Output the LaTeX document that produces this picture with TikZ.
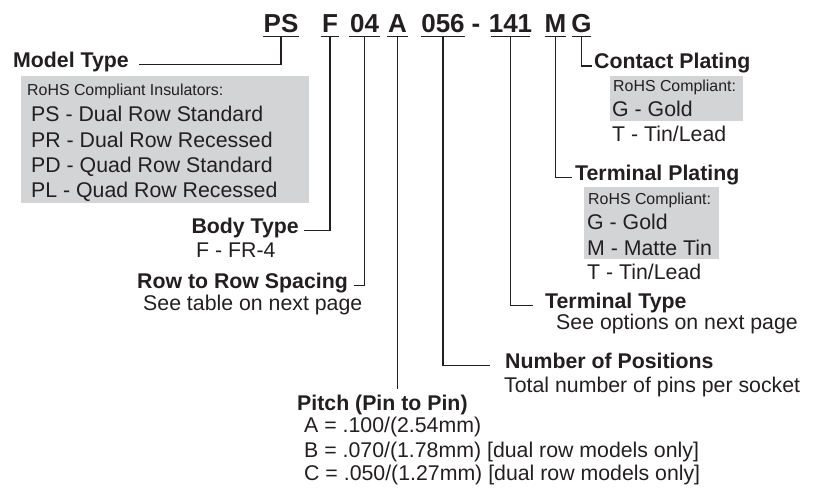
\documentclass[tikz,border=0pt]{standalone}
\usepackage{fontspec}
\setmainfont{Liberation Sans}
\usepackage{xcolor}
\definecolor{pnink}{RGB}{35,31,32}
\definecolor{rohsgray}{RGB}{211,212,214}
\tikzstyle{conn} = [line width=1.3pt, color=pnink]
\tikzstyle{code} = [anchor=base, inner xsep=0.5pt, inner ysep=4pt, text depth=0pt, font=\fontsize{26}{30}\selectfont\bfseries]
\tikzstyle{head} = [inner sep=0pt, font=\fontsize{21.3}{25}\selectfont\bfseries]
\tikzstyle{desc} = [anchor=base west, inner sep=0pt, font=\fontsize{21.3}{25}\selectfont]
\tikzstyle{note} = [anchor=base west, inner sep=0pt, font=\fontsize{15.9}{19}\selectfont]
\tikzstyle{rohsbox} = [fill=rohsgray, anchor=north west, inner sep=0pt]

\begin{document}
\begin{tikzpicture}[x=1pt, y=-1pt, every node/.append style={text=pnink}]
\useasboundingbox (0,0) rectangle (813,488);

% Shaded RoHS boxes
\node[rohsbox, minimum width=288pt, minimum height=127pt] (insbox) at (21,76) {};
\node[rohsbox, minimum width=133pt, minimum height=45pt] (cpbox) at (610,76) {};
\node[rohsbox, minimum width=135pt, minimum height=72pt] (tpbox) at (584,187) {};

% Part number
\node[code] (ps)  at (281,32) {PS};
\node[code] (bt)  at (330,32) {F};
\node[code] (rr)  at (364.5,32) {04};
\node[code] (pt)  at (397.5,32) {A};
\node[code] (np)  at (443,32) {056};
\node[code] (dsh) at (476,32) {-};
\node[code, inner xsep=-2pt] (tt) at (510.5,32) {141};
\node[code, inner xsep=-0.5pt] (tp) at (555.5,32) {M};
\node[code, inner xsep=-0.5pt] (cp) at (581.5,32) {G};
\foreach \n in {ps,bt,rr,pt,np,tt,tp,cp}
  \draw[conn] (\n.south west) -- (\n.south east);

% Model type
\node[head, anchor=base west] (model) at (13,67) {Model Type};
\draw[conn, shorten >=10pt] (ps.south) |- (model.mid east);
\node[note] (ins) at (27,95) {RoHS Compliant Insulators:};
\node[desc] (ps1) at (31,121) {PS - Dual Row Standard};
\node[desc] (pr1) at (31,147) {PR - Dual Row Recessed};
\node[desc] (pd1) at (31,172) {PD - Quad Row Standard};
\node[desc] (pl1) at (31,197) {PL - Quad Row Recessed};

% Body type
\node[head, anchor=base east] (body) at (299,233) {Body Type};
\draw[conn, shorten >=5pt] (bt.south) |- (body.mid east);
\node[desc] (fr4) at (196,257) {F - FR-4};

% Row to row spacing
\node[head, anchor=base east] (row) at (348,288) {Row to Row Spacing};
\draw[conn, shorten >=6pt] (rr.south) |- (row.mid east);
\node[desc] (rowtab) at (143,310) {See table on next page};

% Pitch
\node[head, anchor=base west] (pitch) at (297,410) {Pitch (Pin to Pin)};
\draw[conn, shorten >=5pt] (pt.south) -- (pt.south |- pitch.north);
\node[desc] (pa) at (304,432) {A = .100/(2.54mm)};
\node[desc] (pb) at (304,457) {B = .070/(1.78mm) [dual row models only]};
\node[desc] (pc) at (304,480) {C = .050/(1.27mm) [dual row models only]};

% Number of positions
\node[head, anchor=base west] (npos) at (505,368) {Number of Positions};
\draw[conn, shorten >=15pt] (np.south) |- (npos.mid west);
\node[desc] (pins) at (504,392) {Total number of pins per socket};

% Terminal type
\node[head, anchor=base west] (ttype) at (545,308) {Terminal Type};
\draw[conn, shorten >=12pt] (tt.south) |- (ttype.mid west);
\node[desc] (topts) at (556,329) {See options on next page};

% Terminal plating
\node[head, anchor=base west] (tplat) at (575,180) {Terminal Plating};
\draw[conn, shorten >=3pt] (tp.south) |- (tplat.mid west);
\node[note] (tprohs) at (588,204) {RoHS Compliant:};
\node[desc] (tpg) at (587,229) {G - Gold};
\node[desc] (tpm) at (587,255) {M - Matte Tin};
\node[desc] (tpt) at (587,279) {T - Tin/Lead};

% Contact plating
\node[head, anchor=base west] (cplat) at (594,68.5) {Contact Plating};
\draw[conn, shorten >=2pt] (cp.south) |- (cplat.mid west);
\node[note] (cprohs) at (613,91) {RoHS Compliant:};
\node[desc] (cpg) at (612,116) {G - Gold};
\node[desc] (cpt) at (612,141) {T - Tin/Lead};
\end{tikzpicture}
\end{document}
